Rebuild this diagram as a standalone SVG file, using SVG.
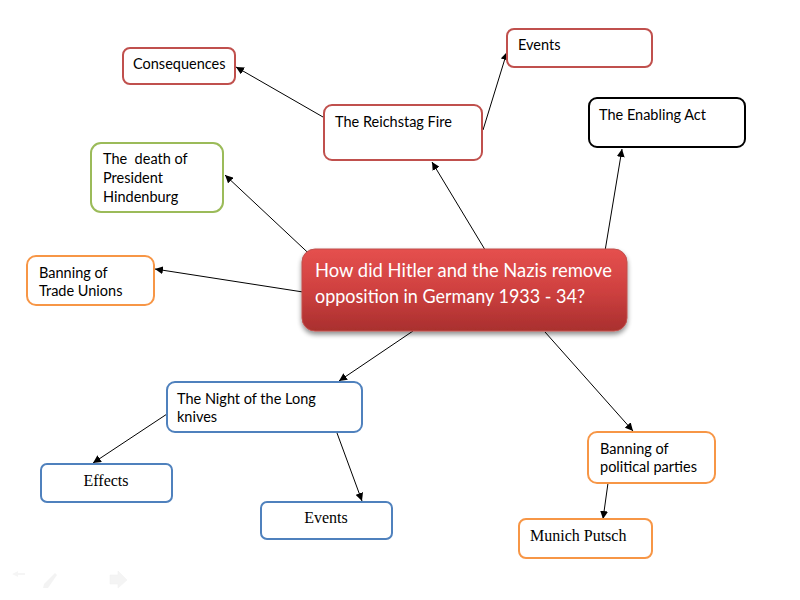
<svg xmlns="http://www.w3.org/2000/svg" width="800" height="600" viewBox="0 0 800 600">
<defs>
<linearGradient id="red" x1="0" y1="0" x2="0" y2="1">
<stop offset="0" stop-color="#e5504e"/>
<stop offset="0.5" stop-color="#cf4140"/>
<stop offset="1" stop-color="#a92f2e"/>
</linearGradient>
<filter id="sh" x="-10%" y="-10%" width="120%" height="130%">
<feGaussianBlur in="SourceAlpha" stdDeviation="2.5"/>
<feOffset dx="0" dy="3" result="b"/>
<feComponentTransfer><feFuncA type="linear" slope="0.45"/></feComponentTransfer>
<feMerge><feMergeNode/><feMergeNode in="SourceGraphic"/></feMerge>
</filter>
<marker id="arr" viewBox="0 0 10 10" refX="10" refY="5" markerWidth="8" markerHeight="8" markerUnits="userSpaceOnUse" orient="auto">
<path d="M0,0 L10,5 L0,10 z" fill="#000"/>
</marker>
</defs>
<style>
.box{fill:#fff;stroke-width:2}
.red{stroke:#c0504d}
.grn{stroke:#9bbb59}
.org{stroke:#f79646}
.blu{stroke:#4f81bd}
.blk{stroke:#000}
.t{font-family:Lato,"Open Sans","Liberation Sans",sans-serif;font-size:14.5px;fill:#000}
.s{font-family:"Liberation Serif","DejaVu Serif",serif;font-size:16px;fill:#000}
.m{font-family:Lato,"Open Sans","Liberation Sans",sans-serif;font-size:19.5px;fill:#fff}
.c{stroke:#000;stroke-width:1;fill:none;marker-end:url(#arr)}
</style>
<rect width="800" height="600" fill="#fff"/>

<g id="connectors">
<line class="c" x1="493" y1="263" x2="432" y2="162"/>
<line class="c" x1="603" y1="263" x2="622" y2="149"/>
<line class="c" x1="319" y1="263" x2="225" y2="175"/>
<line class="c" x1="303" y1="292" x2="155" y2="269"/>
<line class="c" x1="413" y1="331" x2="339" y2="381"/>
<line class="c" x1="545" y1="332" x2="633" y2="431"/>
<line class="c" x1="323" y1="117" x2="236" y2="67"/>
<line class="c" x1="483" y1="130" x2="507" y2="52"/>
<line class="c" x1="167" y1="414" x2="93" y2="463"/>
<line class="c" x1="337" y1="433" x2="362" y2="501"/>
<line class="c" x1="608" y1="483" x2="603" y2="519"/>
</g>

<g id="central">
<rect x="302" y="249" width="325" height="82" rx="13" fill="url(#red)" stroke="#c0504d" stroke-width="1" filter="url(#sh)"/>
<text class="m" x="315" y="277" textLength="297" lengthAdjust="spacingAndGlyphs">How did Hitler and the Nazis remove</text>
<text class="m" x="315" y="303" textLength="270" lengthAdjust="spacingAndGlyphs">opposition in Germany 1933 - 34?</text>
</g>

<g id="consequences">
<rect class="box red" x="123" y="48" width="112" height="36" rx="7"/>
<text class="t" x="133" y="69">Consequences</text>
</g>

<g id="reichstag">
<rect class="box red" x="324" y="105" width="158" height="55" rx="8"/>
<text class="t" x="335" y="127">The Reichstag Fire</text>
</g>

<g id="events-top">
<rect class="box red" x="507" y="29" width="145" height="38" rx="7"/>
<text class="t" x="518" y="50">Events</text>
</g>

<g id="enabling">
<rect class="box blk" x="589" y="98" width="156" height="49" rx="8"/>
<text class="t" x="599" y="120">The Enabling Act</text>
</g>

<g id="hindenburg">
<rect class="box grn" x="91" y="143" width="132" height="69" rx="10"/>
<text class="t" x="103" y="164" xml:space="preserve">The  death of</text>
<text class="t" x="103" y="183">President</text>
<text class="t" x="103" y="202">Hindenburg</text>
</g>

<g id="trade-unions">
<rect class="box org" x="27" y="256" width="127" height="49" rx="9"/>
<text class="t" x="39" y="278">Banning of</text>
<text class="t" x="39" y="296">Trade Unions</text>
</g>

<g id="night">
<rect class="box blu" x="167" y="382" width="195" height="50" rx="8"/>
<text class="t" x="177" y="404">The Night of the Long</text>
<text class="t" x="177" y="422">knives</text>
</g>

<g id="effects">
<rect class="box blu" x="41" y="464" width="131" height="38" rx="6"/>
<text class="s" x="106" y="486" text-anchor="middle">Effects</text>
</g>

<g id="events-bottom">
<rect class="box blu" x="261" y="502" width="131" height="37" rx="6"/>
<text class="s" x="326" y="523" text-anchor="middle">Events</text>
</g>

<g id="political-parties">
<rect class="box org" x="588" y="432" width="127" height="51" rx="9"/>
<text class="t" x="600" y="454">Banning of</text>
<text class="t" x="600" y="472">political parties</text>
</g>

<g id="munich">
<rect class="box org" x="519" y="519" width="133" height="39" rx="7"/>
<text class="s" x="530" y="541">Munich Putsch</text>
</g>

<g id="slide-controls" opacity="0.6">
<path d="M12,574 L18,571 L18,573 L25,573 L25,575 L18,575 L18,577 z" fill="#f0f0f0"/>
<path d="M55,573 L57,575 L48,588 L43,588 L44,584 z" fill="#ececec"/>
<path d="M110,575 L118,575 L118,571 L127,580 L118,588 L118,584 L110,584 z" fill="#eeeeee" stroke="#e4e4e4" stroke-width="0.5"/>
</g>
</svg>
